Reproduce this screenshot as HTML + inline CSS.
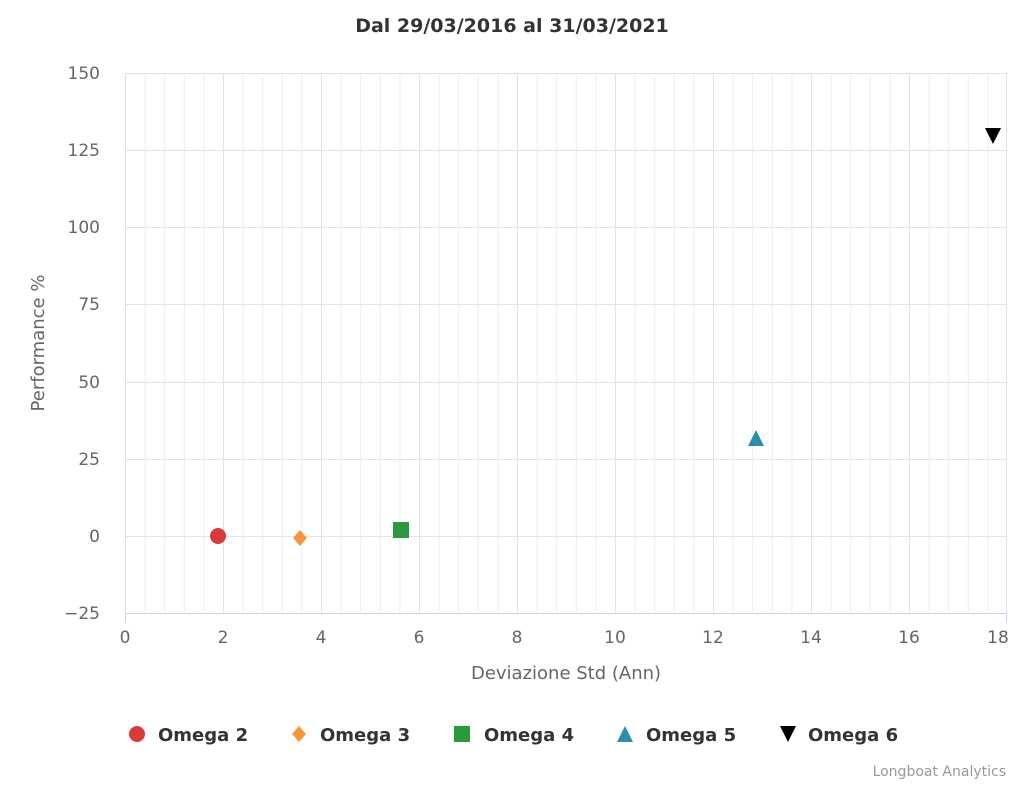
<!DOCTYPE html>
<html><head><meta charset="utf-8"><style>
body{margin:0;background:#fff}
svg text{font-family:"DejaVu Sans","Liberation Sans",sans-serif}
</style></head><body>
<svg width="1024" height="785" xmlns="http://www.w3.org/2000/svg">
<defs>
<pattern id="minor" x="125" y="0" width="19.6" height="785" patternUnits="userSpaceOnUse">
<line x1="0.5" y1="0" x2="0.5" y2="785" stroke="#e9ecf0" stroke-width="1"/>
</pattern>
</defs>
<rect width="1024" height="785" fill="#fff"/>
<text x="512" y="32" text-anchor="middle" font-size="19" font-weight="bold" fill="#333">Dal 29/03/2016 al 31/03/2021</text>
<rect x="125" y="73" width="882" height="540" fill="url(#minor)"/>
<g stroke="#dfe3e8" stroke-width="1">
<line x1="125.5" y1="73" x2="125.5" y2="613"/><line x1="223.5" y1="73" x2="223.5" y2="613"/><line x1="321.5" y1="73" x2="321.5" y2="613"/><line x1="419.5" y1="73" x2="419.5" y2="613"/><line x1="517.5" y1="73" x2="517.5" y2="613"/><line x1="615.5" y1="73" x2="615.5" y2="613"/><line x1="713.5" y1="73" x2="713.5" y2="613"/><line x1="811.5" y1="73" x2="811.5" y2="613"/><line x1="909.5" y1="73" x2="909.5" y2="613"/><line x1="1006.5" y1="73" x2="1006.5" y2="613"/>
</g>
<g stroke="#e3e3e3" stroke-width="1">
<line x1="125" y1="73.5" x2="1007" y2="73.5"/><line x1="125" y1="150.5" x2="1007" y2="150.5"/><line x1="125" y1="227.5" x2="1007" y2="227.5"/><line x1="125" y1="304.5" x2="1007" y2="304.5"/><line x1="125" y1="382.5" x2="1007" y2="382.5"/><line x1="125" y1="459.5" x2="1007" y2="459.5"/><line x1="125" y1="536.5" x2="1007" y2="536.5"/>
</g>
<line x1="125" y1="613.5" x2="1007" y2="613.5" stroke="#ccd6eb"/>
<g stroke="#ccd6eb"><line x1="125.5" y1="613" x2="125.5" y2="623"/><line x1="1006.5" y1="613" x2="1006.5" y2="623"/></g>
<g font-size="17" fill="#666" text-anchor="end">
<text x="100" y="79">150</text><text x="100" y="156">125</text><text x="100" y="233">100</text><text x="100" y="310">75</text><text x="100" y="388">50</text><text x="100" y="465">25</text><text x="100" y="542">0</text><text x="100" y="619">−25</text>
</g>
<g font-size="17" fill="#666" text-anchor="middle">
<text x="125" y="643">0</text><text x="223" y="643">2</text><text x="321" y="643">4</text><text x="419" y="643">6</text><text x="517" y="643">8</text><text x="615" y="643">10</text><text x="713" y="643">12</text><text x="811" y="643">14</text><text x="909" y="643">16</text><text x="998" y="643">18</text>
</g>
<text x="566" y="679" text-anchor="middle" font-size="18" fill="#666">Deviazione Std (Ann)</text>
<text transform="translate(44,343) rotate(-90)" text-anchor="middle" font-size="18" fill="#666">Performance %</text>
<circle cx="218" cy="536" r="8" fill="#d93a3a"/>
<polygon points="300,530 307,538 300,546 293,538" fill="#f7973a"/>
<rect x="393" y="522" width="16" height="16" fill="#2b9a3e"/>
<polygon points="756,430 764,446 748,446" fill="#2a8fa8"/>
<polygon points="985,128 1001,128 993,144" fill="#000"/>
<g font-size="18" font-weight="bold" fill="#333">
<circle cx="137" cy="734" r="8" fill="#d93a3a"/><text x="158" y="741">Omega 2</text>
<polygon points="299,726 306,734 299,742 292,734" fill="#f7973a"/><text x="320" y="741">Omega 3</text>
<rect x="454" y="726" width="16" height="16" fill="#2b9a3e"/><text x="484" y="741">Omega 4</text>
<polygon points="625,726 633,742 617,742" fill="#2a8fa8"/><text x="646" y="741">Omega 5</text>
<polygon points="780,726 796,726 788,742" fill="#000"/><text x="808" y="741">Omega 6</text>
</g>
<text x="1006" y="776" text-anchor="end" font-size="14" fill="#999">Longboat Analytics</text>
</svg>
</body></html>
